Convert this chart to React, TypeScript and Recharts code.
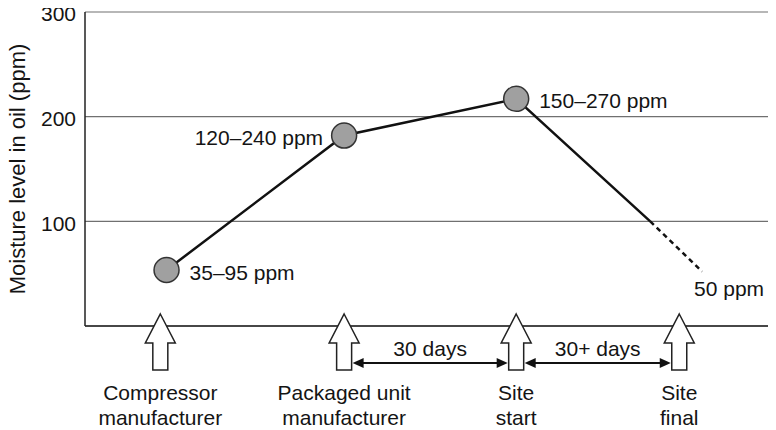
import { CartesianGrid, ComposedChart, Line, ReferenceLine, Scatter, XAxis, YAxis } from 'recharts';

// timeline positions (0-100 across the plot) and moisture in ppm
const stageNames = [
  ['Compressor', 'manufacturer'],
  ['Packaged unit', 'manufacturer'],
  ['Site', 'start'],
  ['Site', 'final'],
];
const stageX = [10.9, 37.5, 62.4, 86.0];
const spanLabels = ['30 days', '30+ days'];

const sampleX = [11.8, 37.5, 62.4];
const moisture = [53.5, 182, 217];
const rangeLabels = ['35–95 ppm', '120–240 ppm', '150–270 ppm'];
const labelSide = ['right', 'left', 'right'];

// decline after site start: solid to the 100 line, dashed down to the final value
const projectionX = [81.8, 89.3];
const projectionY = [100, 52];
const finalLabel = '50 ppm';

const yTicks = [100, 200, 300];

const FONT = '"Liberation Sans", Arial, Helvetica, sans-serif';
const INK = '#141414';
const FS = 21;

const samples = sampleX.map((x, i) => ({ x, y: moisture[i], label: rangeLabels[i], side: labelSide[i] }));
const solidData = [...samples.map(({ x, y }) => ({ x, y })), { x: projectionX[0], y: projectionY[0] }];
const dashedData = projectionX.map((x, i) => ({ x, y: projectionY[i] }));

function StageTick(props: any) {
  const { x, y, payload } = props;
  const idx = stageX.indexOf(payload.value);
  const lines = stageNames[idx] ?? [];
  const arrow = `M${x},${y - 12} L${x + 15},${y + 17} L${x + 7.5},${y + 17} L${x + 7.5},${y + 44} L${x - 7.5},${y + 44} L${x - 7.5},${y + 17} L${x - 15},${y + 17} Z`;
  return (
    <g>
      <path d={arrow} fill="#fff" stroke="#222" strokeWidth={1.5} strokeLinejoin="miter" />
      {lines.map((line, i) => (
        <text key={line} x={x} y={y + 74 + i * 25} textAnchor="middle" fontSize={FS} fontFamily={FONT} fill={INK}>
          {line}
        </text>
      ))}
    </g>
  );
}

function spanShape(label: string) {
  return (props: any) => {
    const { x1, x2, y1 } = props;
    const y = y1 + 37;
    const left = x1 + 8.5;
    const right = x2 - 8.5;
    return (
      <g>
        <line x1={left + 8} y1={y} x2={right - 8} y2={y} stroke="#111" strokeWidth={1.8} />
        <path d={`M${left},${y} L${left + 11},${y - 5} L${left + 11},${y + 5} Z`} fill="#111" />
        <path d={`M${right},${y} L${right - 11},${y - 5} L${right - 11},${y + 5} Z`} fill="#111" />
        <text x={(left + right) / 2} y={y - 7} textAnchor="middle" fontSize={FS} fontFamily={FONT} fill={INK}>
          {label}
        </text>
      </g>
    );
  };
}

function SampleDot(props: any) {
  const { cx, cy, payload } = props;
  const right = payload.side === 'right';
  return (
    <g>
      <circle cx={cx} cy={cy} r={12.5} fill="#a0a0a0" stroke="#333" strokeWidth={1.5} />
      <text
        x={right ? cx + 23 : cx - 21}
        y={cy + 2}
        textAnchor={right ? 'start' : 'end'}
        dominantBaseline="central"
        fontSize={FS}
        fontFamily={FONT}
        fill={INK}
      >
        {payload.label}
      </text>
    </g>
  );
}

export default function App() {
  return (
    <div style={{ margin: '-8px 0 0 -8px' }}>
      <ComposedChart width={776} height={430} margin={{ top: 12, right: 0, bottom: 0, left: 0 }}>
        <CartesianGrid horizontal vertical={false} stroke="#707070" strokeWidth={1.2} />
        <XAxis
          type="number"
          dataKey="x"
          domain={[0, 100]}
          ticks={stageX}
          interval={0}
          height={104}
          tickSize={0}
          tickMargin={0}
          tickLine={false}
          axisLine={{ stroke: '#222', strokeWidth: 1.5 }}
          tick={<StageTick />}
          allowDataOverflow
        />
        <YAxis
          type="number"
          domain={[0, 300]}
          ticks={yTicks}
          interval={0}
          width={85}
          tickSize={0}
          tickMargin={9}
          tickLine={false}
          axisLine={{ stroke: '#222', strokeWidth: 1.5 }}
          tick={{ fontSize: FS, fill: INK, fontFamily: FONT, dy: 2 }}
          label={{
            value: 'Moisture level in oil (ppm)',
            angle: -90,
            position: 'center',
            dx: -25,
            fontSize: 22,
            fill: INK,
            fontFamily: FONT,
          }}
          allowDataOverflow
        />
        {spanLabels.map((label, i) => (
          <ReferenceLine
            key={label}
            segment={[
              { x: stageX[i + 1], y: 0 },
              { x: stageX[i + 2], y: 0 },
            ]}
            ifOverflow="visible"
            shape={spanShape(label)}
          />
        ))}
        <Line
          data={solidData}
          dataKey="y"
          type="linear"
          stroke="#111"
          strokeWidth={2.5}
          dot={false}
          activeDot={false}
          isAnimationActive={false}
        />
        <Line
          data={dashedData}
          dataKey="y"
          type="linear"
          stroke="#111"
          strokeWidth={2.5}
          strokeDasharray="5 4"
          dot={false}
          activeDot={false}
          isAnimationActive={false}
          label={(p: any) =>
            p.index === dashedData.length - 1 ? (
              <text
                key="final"
                x={p.x - 8}
                y={p.y + 17}
                dominantBaseline="central"
                fontSize={FS}
                fontFamily={FONT}
                fill={INK}
              >
                {finalLabel}
              </text>
            ) : (
              <g key={`n${p.index}`} />
            )
          }
        />
        <Scatter data={samples} dataKey="y" shape={<SampleDot />} isAnimationActive={false} />
      </ComposedChart>
    </div>
  );
}
